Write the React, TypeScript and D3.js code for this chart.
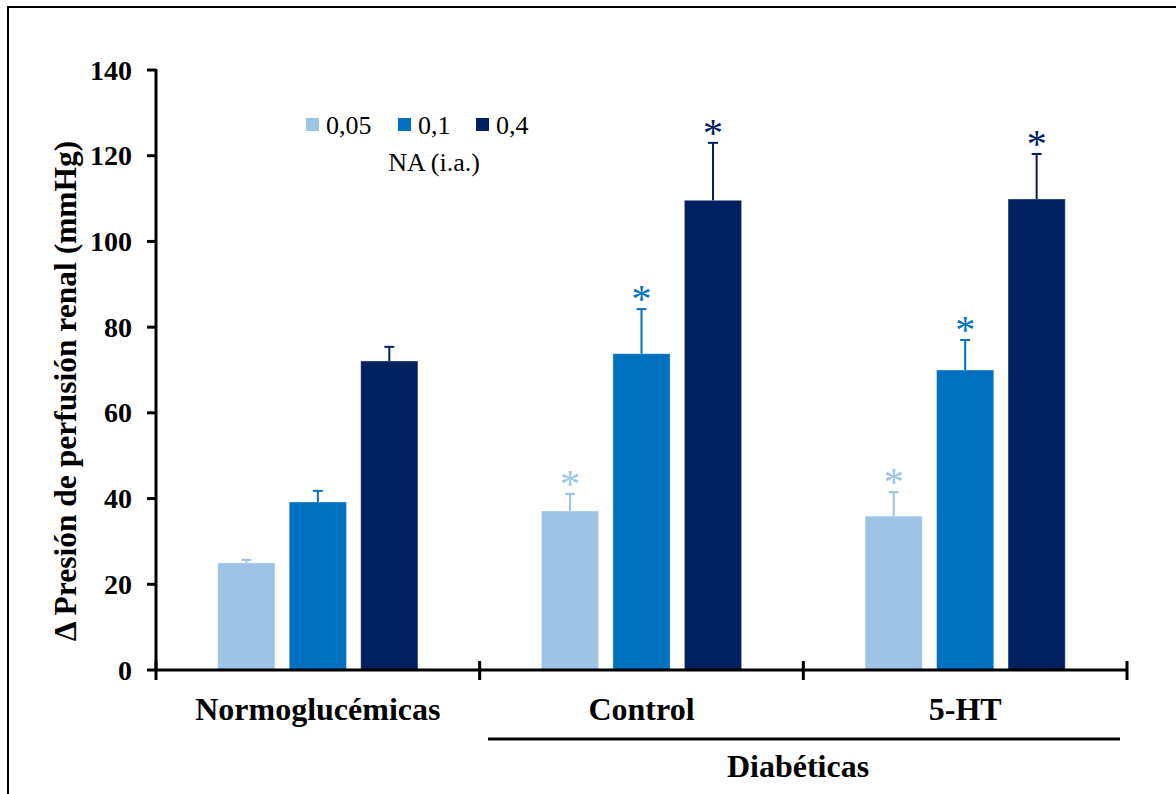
import React from "react";
import * as d3 from "d3";

const categories = ["Normoglucémicas", "Control", "5-HT"];
const series = ["0,05", "0,1", "0,4"];
const colors = ["#9DC3E6", "#0070C0", "#002060"];
const values05 = [25.0, 37.1, 35.9];
const values01 = [39.2, 73.8, 70.0];
const values04 = [72.1, 109.6, 109.9];
const err05 = [0.7, 4.0, 5.6];
const err01 = [2.6, 10.4, 7.0];
const err04 = [3.3, 13.4, 10.5];
const signif = [false, true, true];
const yTicks = [0, 20, 40, 60, 80, 100, 120, 140];

const W = 1176;
const H = 794;

export default function App() {
  const x0 = d3.scaleBand<string>().domain(categories).range([156, 1127]).padding(0);
  const x1 = d3
    .scaleBand<string>()
    .domain(series)
    .range([0, x0.bandwidth()])
    .paddingInner(0.2)
    .paddingOuter(0.864);
  const y = d3.scaleLinear().domain([0, 140]).range([670, 70]);
  const vals = [values05, values01, values04];
  const errs = [err05, err01, err04];
  const font = "'Liberation Serif', 'Times New Roman', serif";
  const bounds = [...categories.map((c) => x0(c)!), 1127];

  return (
    <svg
      width={W}
      height={H}
      style={{ position: "absolute", left: 0, top: 0, background: "#fff" }}
      fontFamily={font}
    >
      <rect x={8} y={7} width={1300} height={900} fill="none" stroke="#000" strokeWidth={2} />

      {/* bars */}
      {categories.map((c, ci) =>
        series.map((s, si) => {
          const bx = x0(c)! + x1(s)!;
          const v = vals[si][ci];
          const e = errs[si][ci];
          const cx = bx + x1.bandwidth() / 2;
          const topE = y(v + e);
          return (
            <g key={c + s}>
              <rect
                x={bx}
                y={y(v)}
                width={x1.bandwidth()}
                height={y(0) - y(v)}
                fill={colors[si]}
                stroke="#ffffff"
                strokeOpacity={0.35}
                strokeWidth={1}
              />
              <line x1={cx} x2={cx} y1={y(v)} y2={topE} stroke={colors[si]} strokeWidth={2} />
              <line x1={cx - 5} x2={cx + 5} y1={topE} y2={topE} stroke={colors[si]} strokeWidth={2} />
              {signif[ci] && (
                <text
                  x={cx}
                  y={topE - 16}
                  fill={colors[si]}
                  fontSize={40}
                  textAnchor="middle"
                  dy={19}
                >
                  *
                </text>
              )}
            </g>
          );
        })
      )}

      {/* y axis */}
      <line x1={156} x2={156} y1={y(140) - 1} y2={y(0)} stroke="#000" strokeWidth={3} />
      {yTicks.map((t) => (
        <g key={t}>
          <line x1={147} x2={156} y1={y(t)} y2={y(t)} stroke="#000" strokeWidth={3} />
          <text
            x={132}
            y={y(t)}
            dy={9.5}
            textAnchor="end"
            fontSize={28}
            fontWeight="bold"
          >
            {t}
          </text>
        </g>
      ))}

      {/* x axis */}
      <line x1={156} x2={1128} y1={670} y2={670} stroke="#000" strokeWidth={3} />
      {bounds.map((b, i) => (
        <line key={i} x1={b} x2={b} y1={661} y2={680} stroke="#000" strokeWidth={3} />
      ))}
      {categories.map((c) => (
        <text
          key={c}
          x={x0(c)! + x0.bandwidth() / 2}
          y={720}
          textAnchor="middle"
          fontSize={32}
          fontWeight="bold"
        >
          {c}
        </text>
      ))}
      <line x1={488} x2={1120} y1={739} y2={739} stroke="#000" strokeWidth={3} />
      <text x={798} y={777} textAnchor="middle" fontSize={32} fontWeight="bold">
        Diabéticas
      </text>

      {/* y title */}
      <text
        transform={`translate(76, 391) rotate(-90)`}
        textAnchor="middle"
        fontSize={31.5}
        fontWeight="bold"
      >
        Δ Presión de perfusión renal (mmHg)
      </text>

      {/* legend */}
      {series.map((s, i) => {
        const lx = [306, 398, 476][i];
        return (
          <g key={s}>
            <rect x={lx} y={118} width={13} height={13} fill={colors[i]} />
            <text x={lx + 20} y={134} fontSize={26}>
              {s}
            </text>
          </g>
        );
      })}
      <text x={434} y={171} textAnchor="middle" fontSize={26}>
        NA (i.a.)
      </text>
    </svg>
  );
}
